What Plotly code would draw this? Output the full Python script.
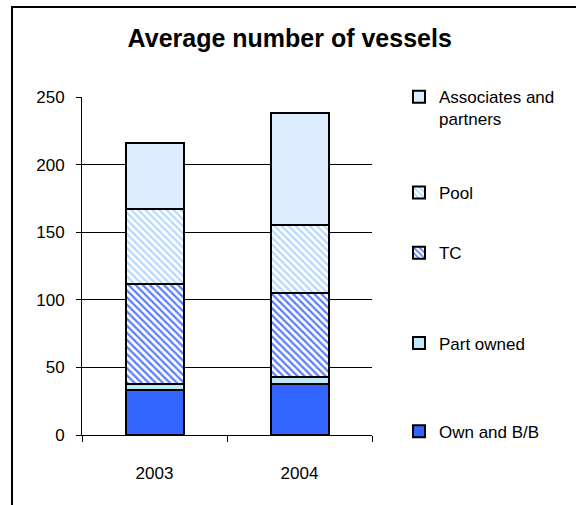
import plotly.graph_objects as go

# Fleet composition by year
years = ["2003", "2004"]
own_bb = [33, 38]
part_owned = [5, 5]
tc = [74, 62]
pool = [55, 50]
associates = [49, 83]

y_tick_values = [0, 50, 100, 150, 200, 250]

FONT = "Liberation Sans, Arial, sans-serif"
OUTLINE = dict(color="black", width=2)

fig = go.Figure()

# (name, values, marker, legend id)
series = [
    ("Own and B/B", own_bb,
     dict(color="#3366FF", line=OUTLINE), "legend5"),
    ("Part owned", part_owned,
     dict(color="#BFE9F7", line=OUTLINE), "legend4"),
    ("TC", tc,
     dict(color="white", line=OUTLINE,
          pattern=dict(shape="\\", fgcolor="#5A7CFF", bgcolor="white",
                       size=5, solidity=0.45, fillmode="replace")), "legend3"),
    ("Pool", pool,
     dict(color="white", line=OUTLINE,
          pattern=dict(shape="\\", fgcolor="#B5D8FF", bgcolor="white",
                       size=5, solidity=0.45, fillmode="replace")), "legend2"),
    ("Associates and<br>partners", associates,
     dict(color="#DDECFF", line=OUTLINE), "legend"),
]

for name, vals, marker, leg in series:
    fig.add_trace(go.Bar(x=years, y=vals, name=name, marker=marker,
                         legend=leg))

legend_font = dict(family=FONT, size=17, color="black")
legend_x = 1.093


def legend_at(y, valign="middle"):
    return dict(x=legend_x, y=y, xanchor="left", yanchor="middle",
                bgcolor="rgba(0,0,0,0)", borderwidth=0, font=legend_font,
                valign=valign)


fig.update_layout(
    width=576, height=505,
    margin=dict(l=82, r=204, t=97, b=70),
    paper_bgcolor="white", plot_bgcolor="white",
    barmode="stack", bargap=0.6,
    showlegend=True,
    title=dict(text="<b>Average number of vessels</b>", x=0.503, y=0.925,
               xref="container", yref="container",
               xanchor="center", yanchor="middle",
               font=dict(family=FONT, size=25, color="black")),
    legend=legend_at(0.967, valign="top"),
    legend2=legend_at(0.716),
    legend3=legend_at(0.538),
    legend4=legend_at(0.271),
    legend5=legend_at(0.0098),
    xaxis=dict(type="category", showline=True, linecolor="black", linewidth=1,
               ticks="outside", tickson="boundaries", ticklen=6,
               tickcolor="black", ticklabelstandoff=23,
               tickfont=dict(family=FONT, size=17, color="black"),
               showgrid=False, zeroline=False),
    yaxis=dict(range=[0, 250], tickvals=y_tick_values, showline=True,
               linecolor="black", linewidth=1, ticks="outside", ticklen=5,
               tickcolor="black", ticklabelstandoff=8,
               tickfont=dict(family=FONT, size=17, color="black"),
               showgrid=True, gridcolor="black", gridwidth=1,
               zeroline=False),
    shapes=[dict(type="rect", xref="paper", yref="paper",
                 x0=-0.2414, x1=2.0, y0=-1.0, y1=1.266,
                 line=dict(color="black", width=2), fillcolor="rgba(0,0,0,0)",
                 layer="below")],
)

fig.write_html("out.html")
